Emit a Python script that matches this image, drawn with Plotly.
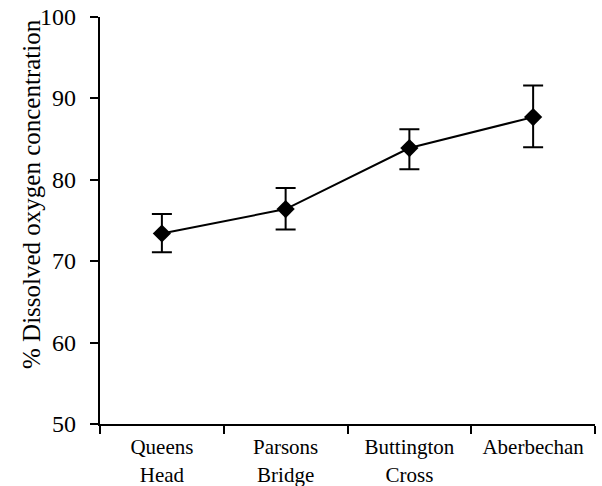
import plotly.graph_objects as go

sites = ["Queens<br>Head", "Parsons<br>Bridge", "Buttington<br>Cross", "Aberbechan"]
oxygen = [73.4, 76.4, 83.9, 87.7]
err_plus = [2.4, 2.6, 2.3, 3.9]
err_minus = [2.3, 2.5, 2.6, 3.7]
y_ticks = [50, 60, 70, 80, 90, 100]
y_title = "% Dissolved oxygen concentration"

FONT = "Liberation Serif"
L, R, T, B = 100, 7, 17, 62
PW, PH = 602 - L - R, 486 - T - B

fig = go.Figure()
fig.add_trace(go.Scatter(
    x=sites, y=oxygen,
    mode="lines+markers",
    line=dict(color="black", width=2),
    marker=dict(symbol="diamond", size=14, color="black"),
    error_y=dict(type="data", symmetric=False, array=err_plus, arrayminus=err_minus,
                 color="black", thickness=2, width=10),
    showlegend=False,
))

annotations = [dict(
    text=y_title, textangle=-90, showarrow=False,
    xref="paper", yref="paper",
    x=(31 - L) / PW, y=(486 - B - 194) / PH,
    xanchor="center", yanchor="middle",
    font=dict(family=FONT, size=25, color="black"),
)]
for v in y_ticks:
    annotations.append(dict(
        text=str(v), showarrow=False,
        xref="paper", yref="y", x=(78 - L) / PW, y=v,
        xanchor="right", yanchor="middle",
        font=dict(family=FONT, size=24, color="black"),
    ))

fig.update_layout(
    width=602, height=486,
    margin=dict(l=L, r=R, t=T, b=B),
    paper_bgcolor="white", plot_bgcolor="white",
    font=dict(family=FONT, color="black"),
    xaxis=dict(
        type="category", range=[-0.5, 3.5], tickson="boundaries",
        showline=True, linecolor="black", linewidth=2,
        ticks="outside", ticklen=8, tickwidth=2, tickcolor="black",
        showgrid=False, zeroline=False, automargin=False,
        tickfont=dict(family=FONT, size=21, color="black"),
        ticklabelstandoff=3,
    ),
    yaxis=dict(
        range=[50, 100], tickvals=y_ticks, showticklabels=False,
        showline=True, linecolor="black", linewidth=2,
        ticks="outside", ticklen=8, tickwidth=2, tickcolor="black",
        showgrid=False, zeroline=False, automargin=False,
    ),
    annotations=annotations,
)

fig.write_html("out.html")
